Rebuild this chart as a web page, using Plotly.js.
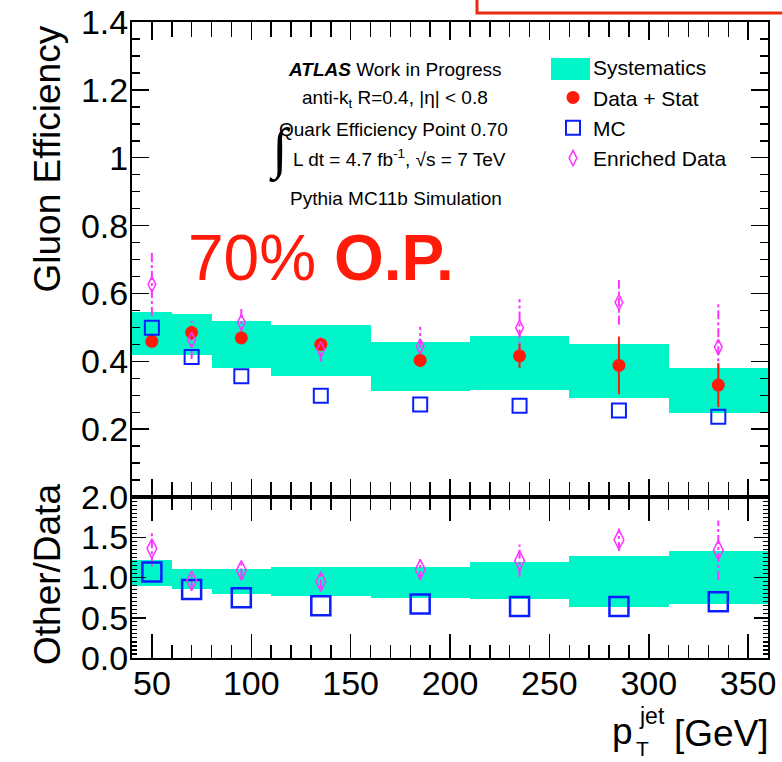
<!DOCTYPE html>
<html><head><meta charset="utf-8">
<script src="https://cdn.plot.ly/plotly-3.0.1.min.js"></script>
<style>html,body{margin:0;padding:0;background:#fff}#plot{width:782px;height:762px}</style>
</head><body><div id="plot"></div>
<script>
const binLo = [40,60,80,110,160,210,260,310];
const binHi = [60,80,110,160,210,260,310,360];
const ptCenters = [50,70,95,135,185,235,285,335];
const dataEff = [0.459,0.485,0.469,0.450,0.403,0.416,0.388,0.330];
const dataStat = [0.010,0.020,0.012,0.017,0.020,0.035,0.085,0.065];
const mcEff = [0.499,0.413,0.356,0.299,0.273,0.269,0.255,0.237];
const enrEff = [0.627,0.463,0.515,0.435,0.444,0.499,0.574,0.442];
const enrErr = [0.093,0.056,0.040,0.036,0.058,0.085,0.066,0.130];
const sysLow = [0.420,0.420,0.381,0.356,0.312,0.317,0.293,0.249];
const sysHigh = [0.544,0.540,0.520,0.507,0.457,0.475,0.450,0.381];
const ratioMC = [1.07,0.85,0.75,0.65,0.67,0.64,0.64,0.70];
const ratioEnr = [1.36,0.96,1.09,0.95,1.10,1.21,1.47,1.34];
const ratioEnrErr = [0.22,0.11,0.09,0.09,0.13,0.20,0.14,0.37];
const ratioSysLow = [0.89,0.86,0.80,0.77,0.75,0.73,0.64,0.67];
const ratioSysHigh = [1.22,1.11,1.11,1.13,1.13,1.19,1.27,1.33];
const yTicksTop = [0.2,0.4,0.6,0.8,1.0,1.2,1.4];
const yTicksBot = [0,0.5,1.0,1.5,2.0];
const xTicks = [50,100,150,200,250,300,350];

const TEAL = '#00F5C8', RED = '#FF1A0A', BLUE = '#0A1EFF', MAG = '#FF33FF';
const binMid = binLo.map((l,i)=>(l+binHi[i])/2);
const binW = binLo.map((l,i)=>binHi[i]-l);

function errLines(xs, ys, es){
  const X=[],Y=[];
  xs.forEach((x,i)=>{X.push(x,x,null);Y.push(ys[i]-es[i],ys[i]+es[i],null);});
  return {X,Y};
}
const eTop = errLines(ptCenters, enrEff, enrErr);
const eBot = errLines(ptCenters, ratioEnr, ratioEnrErr);

const traces = [
  {type:'bar', x:binMid, width:binW, base:sysLow, y:sysHigh.map((h,i)=>h-sysLow[i]),
   marker:{color:TEAL, line:{width:0}}, name:'Systematics', xaxis:'x', yaxis:'y', legendrank:1},
  {type:'bar', x:binMid, width:binW, base:ratioSysLow, y:ratioSysHigh.map((h,i)=>h-ratioSysLow[i]),
   marker:{color:TEAL, line:{width:0}}, showlegend:false, xaxis:'x2', yaxis:'y2'},
  {type:'scatter', mode:'lines', x:eTop.X, y:eTop.Y, line:{color:MAG, width:2, dash:'dashdot'},
   showlegend:false, xaxis:'x', yaxis:'y', hoverinfo:'skip'},
  {type:'scatter', mode:'lines', x:eBot.X, y:eBot.Y, line:{color:MAG, width:2, dash:'dashdot'},
   showlegend:false, xaxis:'x2', yaxis:'y2', hoverinfo:'skip'},
  {type:'scatter', mode:'markers', x:ptCenters, y:dataEff, name:'Data + Stat',
   error_y:{type:'data', array:dataStat, color:RED, thickness:2, width:0},
   marker:{symbol:'circle', size:13, color:RED}, xaxis:'x', yaxis:'y', legendrank:2},
  {type:'scatter', mode:'markers', x:ptCenters, y:mcEff, name:'MC',
   marker:{symbol:'square-open', size:14, color:BLUE, line:{width:2, color:BLUE}}, xaxis:'x', yaxis:'y', legendrank:3},
  {type:'scatter', mode:'markers', x:ptCenters, y:enrEff, name:'Enriched Data',
   marker:{symbol:'diamond-tall-open', size:11, color:MAG, line:{width:1.5, color:MAG}}, xaxis:'x', yaxis:'y', legendrank:4},
  {type:'scatter', mode:'markers', x:ptCenters, y:ratioMC, showlegend:false,
   marker:{symbol:'square-open', size:19, color:BLUE, line:{width:2.5, color:BLUE}}, xaxis:'x2', yaxis:'y2'},
  {type:'scatter', mode:'markers', x:ptCenters, y:ratioEnr, showlegend:false,
   marker:{symbol:'diamond-tall-open', size:14, color:MAG, line:{width:1.5, color:MAG}}, xaxis:'x2', yaxis:'y2'}
];

const F = 'Liberation Sans, Arial, Helvetica, sans-serif';
const axBase = {showline:true, linecolor:'#000', linewidth:2, mirror:'ticks', ticks:'inside',
  tickcolor:'#000', tickwidth:1.5, showgrid:false, zeroline:false,
  tickfont:{family:F, size:34, color:'#000'}};
const px = v => (v-132)/636;      // pixel x -> paper
const py = v => (658-v)/636;      // pixel y -> paper

const layout = {
  width:782, height:762,
  margin:{l:132, r:14, t:22, b:104},
  paper_bgcolor:'#fff', plot_bgcolor:'#fff',
  barmode:'overlay', bargap:0,
  showlegend:true,
  legend:{x:px(553), y:py(47), xanchor:'left', yanchor:'top', bgcolor:'rgba(0,0,0,0)',
    font:{family:F, size:21, color:'#000'}, tracegroupgap:0, itemwidth:30},
  xaxis:Object.assign({}, axBase, {domain:[0,1], anchor:'y', range:[40,360], tickvals:xTicks,
    showticklabels:false, ticklen:18, minor:{dtick:10, ticks:'inside', ticklen:15, tickcolor:'#000', tickwidth:1.5}}),
  yaxis:Object.assign({}, axBase, {domain:[0.253,1], anchor:'x', range:[0,1.4], tickvals:yTicksTop,
    ticklabelstandoff:-5,
    ticklen:17, minor:{dtick:0.05, ticks:'inside', ticklen:8, tickcolor:'#000', tickwidth:1.5}}),
  xaxis2:Object.assign({}, axBase, {domain:[0,1], anchor:'y2', matches:'x', range:[40,360], tickvals:xTicks,
    ticklabelstandoff:-6,
    ticklen:24, minor:{dtick:10, ticks:'inside', ticklen:13, tickcolor:'#000', tickwidth:1.5}}),
  yaxis2:Object.assign({}, axBase, {domain:[0,0.253], anchor:'x2', range:[0,2.0], tickvals:yTicksBot,
    ticklabelstandoff:-5,
    tickformat:'.1f', ticklen:14, minor:{dtick:0.05, ticks:'inside', ticklen:5, tickcolor:'#000', tickwidth:1.2}}),
  annotations:[
    {xref:'paper', yref:'paper', x:px(47), y:py(24), xanchor:'center', yanchor:'top', textangle:-90,
     text:'Gluon Efficiency', showarrow:false, font:{family:F, size:37, color:'#000'}},
    {xref:'paper', yref:'paper', x:px(47), y:py(575), xanchor:'center', yanchor:'middle', textangle:-90,
     text:'Other/Data', showarrow:false, font:{family:F, size:37, color:'#000'}},
    {xref:'paper', yref:'paper', x:px(771), y:py(733), xanchor:'right', yanchor:'middle',
     text:'[GeV]', showarrow:false, font:{family:F, size:37, color:'#000'}},
    {xref:'paper', yref:'paper', x:px(635), y:py(731), xanchor:'right', yanchor:'middle',
     text:'p', showarrow:false, font:{family:F, size:37, color:'#000'}},
    {xref:'paper', yref:'paper', x:px(637), y:py(716), xanchor:'left', yanchor:'middle',
     text:'jet', showarrow:false, font:{family:F, size:23, color:'#000'}},
    {xref:'paper', yref:'paper', x:px(634), y:py(748), xanchor:'left', yanchor:'middle',
     text:'T', showarrow:false, font:{family:F, size:21, color:'#000'}},
    {xref:'paper', yref:'paper', x:px(395), y:py(70), xanchor:'center', yanchor:'middle',
     text:'<b><i>ATLAS</i></b> Work in Progress', showarrow:false, font:{family:F, size:19, color:'#000'}},
    {xref:'paper', yref:'paper', x:px(395), y:py(99), xanchor:'center', yanchor:'middle',
     text:'anti-k<sub>t</sub> R=0.4, |η| < 0.8', showarrow:false, font:{family:F, size:19, color:'#000'}},
    {xref:'paper', yref:'paper', x:px(393), y:py(130), xanchor:'center', yanchor:'middle',
     text:'Quark Efficiency Point 0.70', showarrow:false, font:{family:F, size:19, color:'#000'}},
    {xref:'paper', yref:'paper', x:px(399), y:py(158), xanchor:'center', yanchor:'middle',
     text:'L dt = 4.7 fb<sup>-1</sup>, √s = 7 TeV', showarrow:false, font:{family:F, size:19, color:'#000'}},
    {xref:'paper', yref:'paper', x:px(280), y:py(150), xanchor:'center', yanchor:'middle',
     text:'∫', showarrow:false, font:{family:'Liberation Serif, serif', size:56, color:'#000'}},
    {xref:'paper', yref:'paper', x:px(396), y:py(198), xanchor:'center', yanchor:'middle',
     text:'Pythia MC11b Simulation', showarrow:false, font:{family:F, size:19, color:'#000'}},
    {xref:'paper', yref:'paper', x:px(186), y:py(258), xanchor:'left', yanchor:'middle',
     text:'70% <b>O.P.</b>', showarrow:false, font:{family:F, size:64, color:RED}}
  ],
  shapes:[
    {type:'rect', xref:'paper', yref:'paper', layer:'above', x0:px(551), x1:px(590), y0:py(58), y1:py(80),
     fillcolor:TEAL, line:{width:0}},
    {type:'path', xref:'paper', yref:'paper', layer:'above',
     path:'M '+px(477)+' '+py(0)+' L '+px(477)+' '+py(13)+' L '+px(782)+' '+py(13),
     line:{color:'#E82A10', width:3}}
  ]
};
Plotly.newPlot('plot', traces, layout, {staticPlot:true});
</script></body></html>
